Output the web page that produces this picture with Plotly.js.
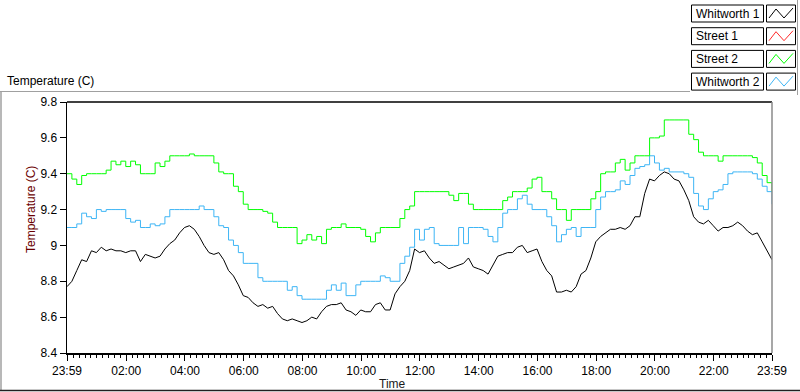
<!DOCTYPE html>
<html>
<head>
<meta charset="utf-8">
<script src="https://cdn.plot.ly/plotly-3.0.1.min.js"></script>
<style>html,body{margin:0;padding:0;background:#fff;}#chart{width:800px;height:392px;}</style>
</head>
<body>
<div id="chart"></div>
<script>
// ---- data (readings every 10 minutes starting 23:59) ----
const seriesNames = ['Whitworth 1', 'Street 1', 'Street 2', 'Whitworth 2'];
const seriesColors = ['#000000', '#ff2a2a', '#00ff00', '#3db5f5'];
const seriesShapes = ['linear', 'linear', 'hv', 'hv'];
const startMinute = 0;      // 23:59
const stepMinutes = 10;

const whitworth1 = [
  8.77, 8.80, 8.86, 8.92, 8.91, 8.97, 8.96, 8.99, 8.97, 8.98, 8.97, 8.97, 8.96, 8.97, 8.97, 8.91, 8.95, 8.94, 8.93, 8.94, 8.98, 9.01, 9.03, 9.07, 9.10, 9.11, 9.09, 9.05, 9.00, 8.96,
  8.95, 8.96, 8.92, 8.86, 8.83, 8.78, 8.72, 8.71, 8.68, 8.66, 8.67, 8.65, 8.66, 8.62, 8.59, 8.58, 8.59, 8.58, 8.57, 8.58, 8.60, 8.59, 8.63, 8.66, 8.67, 8.67, 8.68, 8.64, 8.63,
  8.61, 8.64, 8.63, 8.63, 8.67, 8.68, 8.64, 8.64, 8.73, 8.77, 8.80, 8.86, 8.98, 8.96, 8.97, 8.93, 8.90, 8.91, 8.89, 8.87, 8.88, 8.89, 8.90, 8.93, 8.88, 8.87, 8.86, 8.84,
  8.89, 8.94, 8.95, 8.96, 8.96, 8.99, 9.00, 8.96, 8.97, 8.98, 8.91, 8.86, 8.83, 8.74, 8.74, 8.75, 8.74, 8.77, 8.84, 8.86, 8.93, 9.02, 9.05, 9.07, 9.09, 9.09, 9.10, 9.09, 9.11,
  9.16, 9.16, 9.29, 9.37, 9.36, 9.39, 9.41, 9.40, 9.37, 9.36, 9.31, 9.25, 9.16, 9.13, 9.12, 9.14, 9.11, 9.08, 9.10, 9.10, 9.11, 9.13, 9.11, 9.08, 9.06, 9.07, 9.02, 8.97, 8.92
];
const street1 = [];
const street2 = [
  9.40, 9.37, 9.34, 9.39, 9.40, 9.40, 9.40, 9.40, 9.42, 9.47, 9.45, 9.47, 9.44, 9.47, 9.45, 9.40, 9.40, 9.40, 9.46, 9.44, 9.47, 9.50, 9.50, 9.50, 9.50, 9.51, 9.50, 9.50, 9.50, 9.50,
  9.46, 9.41, 9.40, 9.40, 9.33, 9.30, 9.23, 9.20, 9.20, 9.20, 9.19, 9.18, 9.13, 9.10, 9.10, 9.10, 9.10, 9.01, 9.03, 9.06, 9.03, 9.05, 9.01, 9.09, 9.10, 9.10, 9.12, 9.10, 9.10,
  9.10, 9.09, 9.05, 9.02, 9.07, 9.10, 9.10, 9.10, 9.10, 9.15, 9.20, 9.22, 9.30, 9.30, 9.30, 9.30, 9.30, 9.30, 9.30, 9.28, 9.25, 9.29, 9.29, 9.23, 9.20, 9.20, 9.20, 9.20,
  9.20, 9.20, 9.25, 9.27, 9.30, 9.30, 9.30, 9.32, 9.37, 9.38, 9.30, 9.30, 9.26, 9.20, 9.20, 9.14, 9.20, 9.20, 9.20, 9.20, 9.26, 9.30, 9.40, 9.41, 9.41, 9.46, 9.48, 9.42, 9.46,
  9.50, 9.50, 9.50, 9.60, 9.60, 9.61, 9.70, 9.70, 9.70, 9.70, 9.70, 9.62, 9.59, 9.52, 9.50, 9.50, 9.50, 9.47, 9.50, 9.50, 9.50, 9.50, 9.50, 9.50, 9.49, 9.46, 9.39, 9.35, 9.30
];
const whitworth2 = [
  9.10, 9.10, 9.12, 9.18, 9.16, 9.15, 9.20, 9.19, 9.20, 9.20, 9.20, 9.20, 9.15, 9.13, 9.14, 9.10, 9.10, 9.12, 9.11, 9.12, 9.16, 9.20, 9.20, 9.20, 9.20, 9.20, 9.20, 9.22, 9.20, 9.20,
  9.16, 9.11, 9.10, 9.03, 9.00, 8.96, 8.90, 8.90, 8.90, 8.82, 8.80, 8.80, 8.80, 8.80, 8.80, 8.75, 8.77, 8.72, 8.70, 8.70, 8.70, 8.70, 8.70, 8.75, 8.78, 8.75, 8.79, 8.72, 8.72,
  8.78, 8.80, 8.80, 8.80, 8.80, 8.83, 8.82, 8.80, 8.80, 8.90, 8.94, 8.99, 9.09, 9.03, 9.09, 9.10, 9.01, 9.00, 9.00, 9.00, 9.00, 9.10, 9.01, 9.10, 9.10, 9.10, 9.09, 9.05,
  9.02, 9.10, 9.18, 9.20, 9.20, 9.26, 9.28, 9.23, 9.20, 9.20, 9.20, 9.16, 9.11, 9.02, 9.06, 9.09, 9.10, 9.05, 9.10, 9.10, 9.10, 9.20, 9.27, 9.30, 9.30, 9.31, 9.36, 9.34, 9.39,
  9.43, 9.44, 9.45, 9.50, 9.46, 9.42, 9.43, 9.41, 9.41, 9.41, 9.40, 9.38, 9.29, 9.22, 9.20, 9.26, 9.30, 9.31, 9.34, 9.40, 9.41, 9.41, 9.41, 9.41, 9.40, 9.37, 9.33, 9.30, 9.23
];
const seriesValues = [whitworth1, street1, street2, whitworth2];

const tickMinutes = [0, 121, 241, 361, 481, 601, 721, 841, 961, 1081, 1201, 1321, 1440];
const tickLabels = ['23:59', '02:00', '04:00', '06:00', '08:00', '10:00', '12:00', '14:00', '16:00', '18:00', '20:00', '22:00', '23:59'];

// ---- layout geometry (pixels) ----
const W = 800, H = 392;
const L = 67, R = 772, T = 102, B = 353;
const px = X => (X - L) / (R - L);
const py = Y => (B - Y) / (B - T);
const FONT = 'Liberation Sans, Arial, sans-serif';

// draw order: Whitworth 2 / Street 2 behind, Whitworth 1 on top
const order = [3, 2, 1, 0];
const traces = order.map(k => ({
  type: 'scatter', mode: 'lines', name: seriesNames[k],
  x0: startMinute, dx: stepMinutes, y: seriesValues[k],
  line: {color: seriesColors[k], width: 1, shape: seriesShapes[k]}, hoverinfo: 'skip'
}));

const shapes = [
  // plot frame
  {type: 'line', xref: 'paper', yref: 'paper', x0: 0, x1: 1, y0: 1, y1: 1, line: {color: '#000', width: 1.5}},
  {type: 'line', xref: 'paper', yref: 'paper', x0: 1, x1: 1, y0: 0, y1: 1, line: {color: '#8a8a8a', width: 1.5}},
  // panel border
  {type: 'line', xref: 'paper', yref: 'paper', x0: px(0), x1: px(690), y0: py(91.5), y1: py(91.5), line: {color: '#a0a0a0', width: 1}},
  {type: 'line', xref: 'paper', yref: 'paper', x0: px(1), x1: px(1), y0: py(91.5), y1: py(391), line: {color: '#a0a0a0', width: 1.5}},
  {type: 'line', xref: 'paper', yref: 'paper', x0: px(0), x1: px(800), y0: py(390.5), y1: py(390.5), line: {color: '#202020', width: 1.5}},
  {type: 'line', xref: 'paper', yref: 'paper', x0: px(797.5), x1: px(797.5), y0: py(0), y1: py(95), line: {color: '#a0a0a0', width: 1}}
];
const annotations = [
  {xref: 'paper', yref: 'paper', x: px(5), y: py(81), xanchor: 'left', yanchor: 'middle', showarrow: false,
   text: 'Temperature (C)', font: {family: FONT, size: 12, color: '#000'}},
  {xref: 'paper', yref: 'paper', x: px(31), y: py(210), xanchor: 'center', yanchor: 'middle', showarrow: false, textangle: -90,
   text: 'Temperature (C)', font: {family: FONT, size: 12, color: '#6a0000'}},
  {xref: 'paper', yref: 'paper', x: px(392), y: py(384), xanchor: 'center', yanchor: 'middle', showarrow: false,
   text: 'Time', font: {family: FONT, size: 12, color: '#1a1a1a'}}
];

// custom legend (name box + line icon box)
seriesNames.forEach((name, k) => {
  const top = 5 + k * 22.7, bot = top + 17;
  shapes.push({type: 'rect', xref: 'paper', yref: 'paper', x0: px(691.5), x1: px(763.5), y0: py(bot), y1: py(top), line: {color: '#000', width: 1}, fillcolor: '#fff'});
  shapes.push({type: 'rect', xref: 'paper', yref: 'paper', x0: px(766.5), x1: px(795.5), y0: py(bot), y1: py(top), line: {color: '#000', width: 1}, fillcolor: '#fff'});
  const pts = [[769, top + 13], [776, top + 4], [784, top + 13], [793, top + 3]];
  shapes.push({type: 'path', xref: 'paper', yref: 'paper',
    path: 'M ' + pts.map(p => px(p[0]) + ',' + py(p[1])).join(' L '),
    line: {color: seriesColors[k], width: 1}});
  annotations.push({xref: 'paper', yref: 'paper', x: px(694), y: py((top + bot) / 2), xanchor: 'left', yanchor: 'middle', showarrow: false,
    text: name, font: {family: FONT, size: 12, color: '#000'}});
});

const layout = {
  width: W, height: H,
  margin: {l: L, r: W - R, t: T, b: H - B, pad: 0},
  paper_bgcolor: '#fff', plot_bgcolor: '#fff',
  showlegend: false,
  font: {family: FONT, size: 12, color: '#000'},
  xaxis: {
    range: [0, 1440], tickmode: 'array', tickvals: tickMinutes, ticktext: tickLabels,
    ticks: 'outside', ticklen: 6, tickcolor: '#000', tickwidth: 1,
    minor: {tick0: 1, dtick: 12, ticks: 'outside', ticklen: 3, tickcolor: '#000', tickwidth: 1, showgrid: false},
    showgrid: false, zeroline: false, showline: true, linecolor: '#000', linewidth: 1.5,
    tickfont: {family: FONT, size: 12, color: '#000'}, fixedrange: true
  },
  yaxis: {
    range: [8.4, 9.8], dtick: 0.2, tick0: 8.4,
    ticks: 'outside', ticklen: 6, tickcolor: '#000', tickwidth: 1,
    showgrid: false, zeroline: false, showline: true, linecolor: '#000', linewidth: 1.5,
    tickfont: {family: FONT, size: 12, color: '#000'}, fixedrange: true
  },
  shapes: shapes, annotations: annotations
};

Plotly.newPlot('chart', traces, layout, {staticPlot: true, displayModeBar: false});
</script>
</body>
</html>
